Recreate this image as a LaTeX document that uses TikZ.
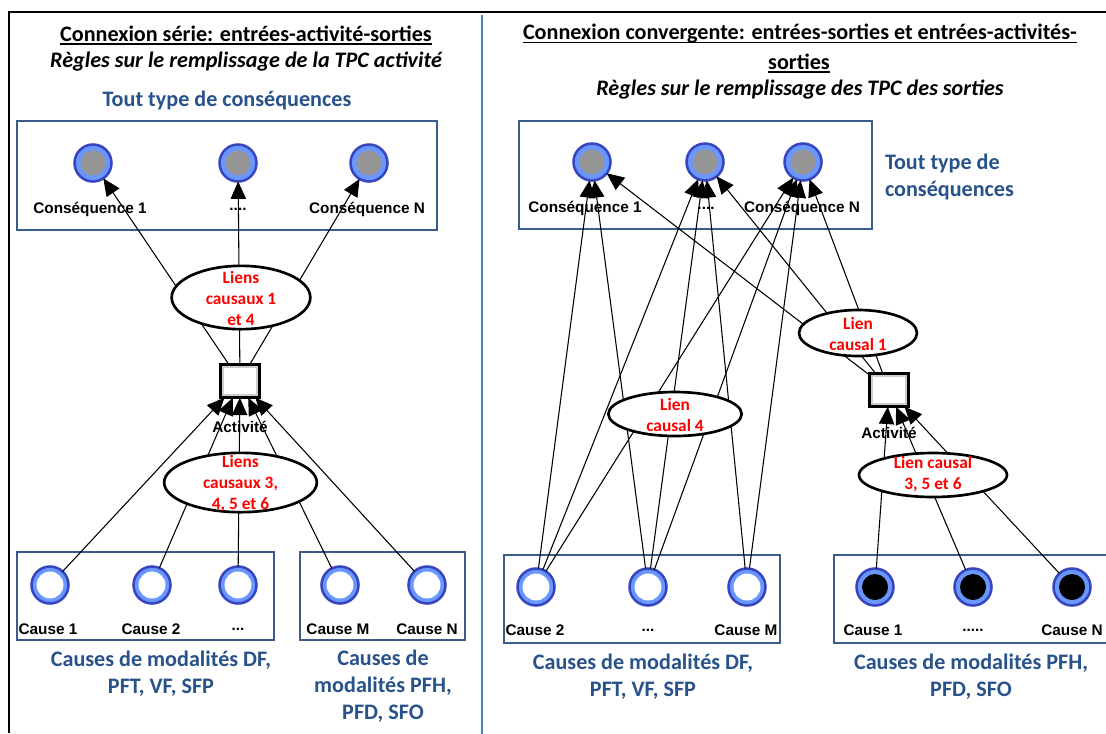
\documentclass[tikz,border=0pt]{standalone}
\usepackage{fontspec}
\setmainfont{Carlito}
\newfontfamily\arialfont{Liberation Sans}
\newcommand\myul[1]{\setbox0\hbox{#1}\rlap{\rule[-2.6pt]{\wd0}{1.2pt}}\box0}
\usetikzlibrary{arrows.meta,shapes.geometric}
\definecolor{frameblue}{RGB}{79,129,189}
\definecolor{boxblue}{RGB}{56,93,138}
\definecolor{txtblue}{RGB}{40,82,138}
\definecolor{ringdark}{RGB}{55,70,190}
\definecolor{ringlight}{RGB}{105,150,255}
\definecolor{coregray}{RGB}{150,150,150}
\begin{document}
\begin{tikzpicture}[x=0.75pt,y=-0.75pt,
  every node/.style={inner sep=0pt, outer sep=0pt},
  titletxt/.style={font=\fontsize{16.6pt}{20pt}\selectfont\bfseries},
  bluetxt/.style={text=txtblue, align=center, font=\fontsize{16.6pt}{20.25pt}\selectfont\bfseries},
  redtxt/.style={text=red, align=center, font=\fontsize{13pt}{15.75pt}\selectfont\bfseries},
  lab/.style={font=\arialfont\fontsize{11.5pt}{13pt}\selectfont\bfseries},
  boxst/.style={draw=boxblue, line width=1.9pt},
  ringbase/.style={circle, minimum size=27.75pt, fill=ringlight, draw=ringdark, line width=1.9pt},
  conscirc/.style={ringbase, path picture={\fill[coregray] (path picture bounding box.center) circle[radius=9.4pt];}},
  causecirc/.style={ringbase, path picture={\fill[white] (path picture bounding box.center) circle[radius=10.1pt];}},
  blackcirc/.style={ringbase, path picture={\fill[black] (path picture bounding box.center) circle[radius=9.75pt];}},
  actbox/.style={rectangle, minimum width=29.6pt, minimum height=25.1pt, fill=white, draw=black, line width=2pt,
    path picture={\draw[gray!40, line width=1.6pt] ([xshift=1.8pt,yshift=-1.8pt]path picture bounding box.north west) rectangle ([xshift=-1.8pt,yshift=1.8pt]path picture bounding box.south east);}},
  lienell/.style={ellipse, draw=black, line width=2pt, fill=white},
  conn/.style={line width=0.8pt, black},
  arr/.style={conn, -{Triangle[length=13pt,width=11.5pt]}}
]
\useasboundingbox (0,0) rectangle (1106,733);
\clip (0,0) rectangle (1106,733);
\fill[white] (0,0) rectangle (1106,733);

% frame
\draw[line width=1.5pt] (9,733) -- (9,12) -- (1110,12);
\draw[frameblue, line width=1.5pt] (482,15) -- (482,740);

% ---------------- left panel ----------------
\node[titletxt] (lt1) at (246,35) {\myul{Connexion série: entrées-activité-sorties}};
\node[titletxt] (lt2) at (246,62) {\itshape Règles sur le remplissage de la TPC activité};
\node[bluetxt] (lblue1) at (227,100) {Tout type de conséquences};

\draw[boxst] (17,121) rectangle (437,230);
\draw[boxst] (17,552) rectangle (274,640);
\draw[boxst] (300,552) rectangle (465,640);

\node[conscirc] (lc1) at (93,163) {};
\node[conscirc] (lc2) at (238,163) {};
\node[conscirc] (lc3) at (369,163) {};
\node[lab] (lcl1) at (90,209) {Conséquence 1};
\node[lab] (lcl2) at (238,209) {....};
\node[lab] (lcl3) at (367,209) {Conséquence N};

\node[actbox] (lact) at (240,381) {};
\node[lab] (lactl) at (240,427) {Activité};

\node[causecirc] (lk1) at (50,585) {};
\node[causecirc] (lk2) at (152,585) {};
\node[causecirc] (lk3) at (238,585) {};
\node[causecirc] (lk4) at (340,585) {};
\node[causecirc] (lk5) at (427,585) {};
\node[lab] (lkl1) at (48,629) {Cause 1};
\node[lab] (lkl2) at (151,629) {Cause 2};
\node[lab] (lkl3) at (238,629) {...};
\node[lab] (lkl4) at (338,629) {Cause M};
\node[lab] (lkl5) at (427,629) {Cause N};

\node[bluetxt] (lblue2) at (161,673.5) {Causes de modalités DF,\\PFT, VF, SFP};
\node[bluetxt] (lblue3) at (383,686.5) {Causes de\\modalités PFH,\\PFD, SFO};

\draw[arr] (lact) -- (lc1);
\draw[arr] (lact) -- (lc2);
\draw[arr] (lact) -- (lc3);
\foreach \k in {lk1,lk2,lk3,lk4,lk5} \draw[arr] (\k) -- (lact);

\node[lienell, minimum width=104pt, minimum height=47.5pt] (le1) at (241,297.5) {};
\node[redtxt] (le1t) at (241,298) {Liens\\causaux 1\\et 4};
\node[lienell, minimum width=114.5pt, minimum height=44.5pt] (le2) at (240.5,482.5) {};
\node[redtxt] (le2t) at (240.5,483.5) {Liens\\causaux 3,\\4, 5 et 6};

% ---------------- right panel ----------------
\node[titletxt] (rt1) at (800,34) {\myul{Connexion convergente: entrées-sorties et entrées-activités-}};
\node[titletxt] (rt2) at (799,63) {\myul{sorties}};
\node[titletxt] (rt3) at (800,90) {\itshape Règles sur le remplissage des TPC des sorties};
\node[bluetxt, align=left, anchor=west] (rblue1) at (885,176.5) {Tout type de\\conséquences};

\draw[boxst] (519,121) rectangle (872,229);
\draw[boxst] (504,555) rectangle (780,643);
\draw[boxst] (834,555) rectangle (1125,643);

\node[conscirc] (rc1) at (592,162) {};
\node[conscirc] (rc2) at (705,162) {};
\node[conscirc] (rc3) at (803,162) {};
\node[lab] (rcl1) at (585,208) {Conséquence 1};
\node[lab] (rcl2) at (706,208) {....};
\node[lab] (rcl3) at (802,208) {Conséquence N};

\node[actbox] (ract) at (889,390) {};
\node[lab] (ractl) at (889,433) {Activité};

\node[causecirc] (rk1) at (536,587) {};
\node[causecirc] (rk2) at (648,587) {};
\node[causecirc] (rk3) at (747,587) {};
\node[lab] (rkl1) at (535,630) {Cause 2};
\node[lab] (rkl2) at (648,630) {...};
\node[lab] (rkl3) at (746,630) {Cause M};

\node[blackcirc] (rb1) at (875,587) {};
\node[blackcirc] (rb2) at (973,587) {};
\node[blackcirc] (rb3) at (1072,587) {};
\node[lab] (rbl1) at (873,630) {Cause 1};
\node[lab] (rbl2) at (973,630) {.....};
\node[lab] (rbl3) at (1072,630) {Cause N};

\node[bluetxt] (rblue2) at (643,676.5) {Causes de modalités DF,\\PFT, VF, SFP};
\node[bluetxt] (rblue3) at (971,676.5) {Causes de modalités PFH,\\PFD, SFO};

\draw[arr] (rk1) -- (rc1);
\draw[arr] (rk1) -- (rc2);
\draw[arr] (rk1) -- (rc3);
\draw[arr] (rk2) -- (rc1);
\draw[arr] (rk2) -- (rc2);
\draw[arr] (rk2) -- (rc3);
\draw[arr] (rk3) -- (rc2);
\draw[arr] (rk3) -- (rc3);
\draw[arr] (ract) -- (rc1);
\draw[arr] (ract) -- (rc2);
\draw[arr] (ract) -- (rc3);
\foreach \k in {rb1,rb2,rb3} \draw[arr] (\k) -- (ract);

\node[lienell, minimum width=88.5pt, minimum height=34.5pt] (re1) at (858,333) {};
\node[redtxt] (re1t) at (858,333.5) {Lien\\causal 1};
\node[lienell, minimum width=100pt, minimum height=33pt] (re4) at (675,414) {};
\node[redtxt] (re4t) at (675,414.5) {Lien\\causal 4};
\node[lienell, minimum width=111pt, minimum height=33pt] (re3) at (933,475) {};
\node[redtxt] (re3t) at (933,474.5) {Lien causal\\3, 5 et 6};
\end{tikzpicture}
\end{document}
